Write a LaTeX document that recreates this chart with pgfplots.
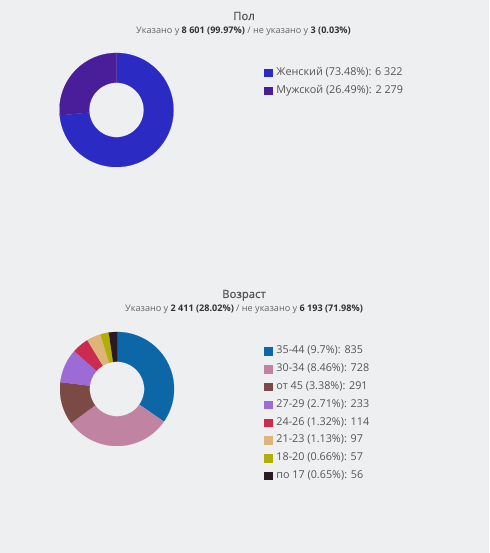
\documentclass[border=0pt]{standalone}
\usepackage{fontspec}
\setmainfont{Open Sans}
\newfontfamily\titlefont{Open Sans}[FakeBold=0.9]
\usepackage{pgfplots}
\pgfplotsset{compat=1.18}

\definecolor{bg}{HTML}{EEEFF1}
\definecolor{titlegrey}{HTML}{555555}
\definecolor{subgrey}{HTML}{666666}
\definecolor{boldgrey}{HTML}{333333}
\definecolor{female}{HTML}{2B2BC4}
\definecolor{male}{HTML}{4A1D9A}
\definecolor{a3544}{HTML}{0D67A6}
\definecolor{a3034}{HTML}{C083A1}
\definecolor{a45}{HTML}{7B4A44}
\definecolor{a2729}{HTML}{9D6BD6}
\definecolor{a2426}{HTML}{CC2A4E}
\definecolor{a2123}{HTML}{DFB47A}
\definecolor{a1820}{HTML}{B3AE06}
\definecolor{a17}{HTML}{2B1A22}

% ring radii (outer radius = 1)
\def\Ro{1}
\def\Ri{0.48}

% one ring sector: #1 count before it, #2 its count, #3 total, #4 colour, #5 legend text
% t in [0,1] runs along the outer arc, t in [1,2] back along the inner arc;
% the arc fraction is clamped so that both arcs reach their exact end angles;
% angles start at 12 o'clock and go clockwise
\newcommand\sector[5]{%
  \addplot[fill=#4, draw=#4, line width=0.2pt, domain=0:2, samples=241]
    ({(x<1 ? \Ro : \Ri)*cos(90-360*(#1+#2*(x<1 ? min(1,1.02*x) : min(1,1.02*(2-x))))/#3)},
     {(x<1 ? \Ro : \Ri)*sin(90-360*(#1+#2*(x<1 ? min(1,1.02*x) : min(1,1.02*(2-x))))/#3)});
  \addlegendentry{#5}%
}

\pgfplotsset{
  donut/.style={
    hide axis, scale only axis,
    width=114pt, height=114pt,
    xmin=-1, xmax=1, ymin=-1, ymax=1,
    anchor=center,
    legend image code/.code={\fill[##1] (0pt,-3.75pt) rectangle (8pt,3.75pt);},
    legend cell align=left,
    legend style={draw=none, fill=none, inner sep=0pt, column sep=4pt,
      anchor=north west, font=\fontsize{10.8}{12}\selectfont, text=titlegrey,
      nodes={inner sep=0pt, text height=8pt, text depth=2.5pt}},
  },
}

\begin{document}
\begin{tikzpicture}
\path[use as bounding box] (0,0) rectangle (489pt,553pt);
\fill[bg] (0,0) rectangle (489pt,553pt);

% gender
\node[anchor=base, text=titlegrey, font=\titlefont\fontsize{11.3}{13}\selectfont] at (244pt,533pt) {Пол};
\node[anchor=base, text=subgrey, font=\fontsize{9.1}{11}\selectfont] at (243.5pt,519pt)
  {Указано у \textcolor{boldgrey}{\bfseries 8 601 (99.97\%)} / не указано у \textcolor{boldgrey}{\bfseries 3 (0.03\%)}};

\begin{axis}[donut, at={(116.5pt,443pt)},
  legend style={at={(axis cs:2.588,0.754)}, row sep=7.7pt}]
  \sector{0}{6322}{8601}{female}{Женский (73.48\%): 6 322}
  \sector{6322}{2279}{8601}{male}{Мужской (26.49\%): 2 279}
\end{axis}

% age
\node[anchor=base, text=titlegrey, font=\titlefont\fontsize{11.3}{13}\selectfont] at (244pt,255pt) {Возраст};
\node[anchor=base, text=subgrey, font=\fontsize{9.1}{11}\selectfont] at (244pt,241.5pt)
  {Указано у \textcolor{boldgrey}{\bfseries 2 411 (28.02\%)} / не указано у \textcolor{boldgrey}{\bfseries 6 193 (71.98\%)}};

\begin{axis}[donut, at={(117pt,164pt)},
  legend style={at={(axis cs:2.579,0.759)}, row sep=7.3pt}]
  \sector{0}{835}{2411}{a3544}{35-44 (9.7\%): 835}
  \sector{835}{728}{2411}{a3034}{30-34 (8.46\%): 728}
  \sector{1563}{291}{2411}{a45}{от 45 (3.38\%): 291}
  \sector{1854}{233}{2411}{a2729}{27-29 (2.71\%): 233}
  \sector{2087}{114}{2411}{a2426}{24-26 (1.32\%): 114}
  \sector{2201}{97}{2411}{a2123}{21-23 (1.13\%): 97}
  \sector{2298}{57}{2411}{a1820}{18-20 (0.66\%): 57}
  \sector{2355}{56}{2411}{a17}{по 17 (0.65\%): 56}
\end{axis}
\end{tikzpicture}
\end{document}
